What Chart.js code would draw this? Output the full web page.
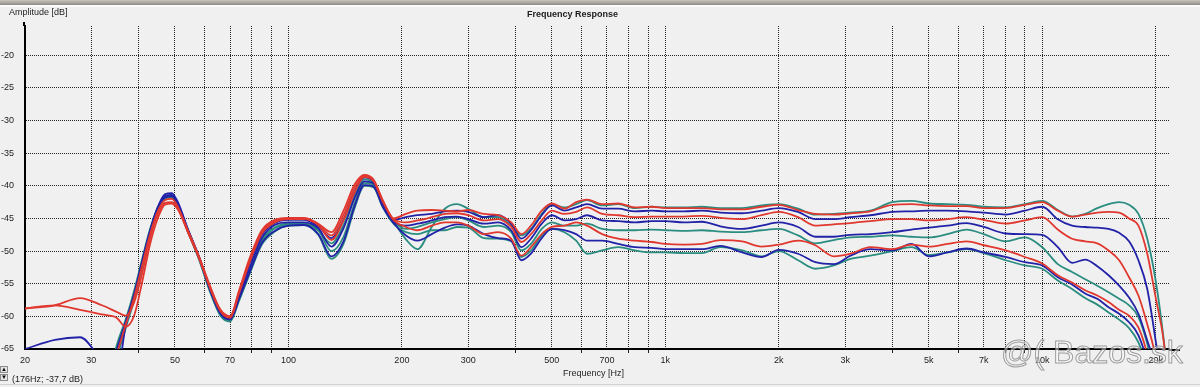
<!DOCTYPE html>
<html>
<head>
<meta charset="utf-8">
<script src="https://cdn.jsdelivr.net/npm/chart.js@4.4.1/dist/chart.umd.min.js"></script>
<style>
  html, body { margin: 0; padding: 0; background: #f0f0f0; }
  #wrap { position: relative; width: 1200px; height: 387px; overflow: hidden; background: #f0f0f0;
          font-family: "Liberation Sans", Arial, sans-serif; color: #1c1c1c; }
  #chart { position: absolute; left: 0; top: 0; }
  .txt { position: absolute; white-space: nowrap; font-size: 9px; line-height: 1; }
  #topbar { position: absolute; left: 0; top: 0; width: 1200px; height: 5px; background: linear-gradient(#c9c5bd, #8f8b84); }
  #topline { position: absolute; left: 0; top: 5px; width: 1200px; height: 2px; background: #fbfbfb; }
  #botline { position: absolute; left: 0; top: 384px; width: 1200px; height: 1px; background: #d2d2d2; }
  .btn { position: absolute; left: 0; width: 8px; height: 7px; background: #e4e4e4; border: 1px solid #8a8a8a; box-sizing: border-box;
         font-size: 6px; line-height: 5px; text-align: center; color: #000; }
  #mark { position: absolute; left: 1001px; top: 334px; font-size: 32px; font-family: "Liberation Sans", Arial, sans-serif;
          color: rgba(255,255,255,0.5); -webkit-text-stroke: 1px rgba(120,120,120,0.7); white-space: nowrap; }
</style>
</head>
<body>
<div id="wrap">
  <canvas id="chart" width="1200" height="387"></canvas>
  <div id="topbar"></div>
  <div id="topline"></div>
  <div class="txt" style="left:9px; top:8px;">Amplitude [dB]</div>
  <div class="txt" style="left:527px; top:10px; font-weight:bold;">Frequency Response</div>
  <div class="txt" style="left:563px; top:369px;">Frequency [Hz]</div>
  <div class="btn" style="top:366px;">&#9650;</div>
  <div class="btn" style="top:374px;">&#9660;</div>
  <div class="txt" style="left:12px; top:375px;">(176Hz; -37,7 dB)</div>
  <div id="botline"></div>
  <div id="mark">@( Bazos.sk</div>
</div>
<script>
// frequency points shared by all measurements (Hz)
const freqs = [20, 24, 28, 32, 35, 37, 39, 41, 43, 45, 47, 49, 51, 54, 58, 62, 66, 70, 74, 79, 85, 92, 100, 110, 120, 130, 140, 150, 159, 168, 178, 190,
  205, 220, 240, 260, 280, 300, 330, 360, 390, 415, 440, 470, 500, 540, 580, 620, 680, 750, 830, 920, 1000,
  1120, 1250, 1400, 1600, 1800, 2000, 2250, 2500, 2800, 3100, 3500, 4000, 4500, 5000, 5600, 6300, 7000, 8000, 9000, 10000,
  11000, 12000, 13000, 14000, 15000, 16000, 17000, 18000, 19000, 20000, 21000, 22000];

// amplitude in dB, one array per curve (top to bottom at high frequencies)
const teal1 = [-75, -75, -75, -75, -64.8, -60.8, -56.3, -51.3, -46.7, -43.4, -41.7, -41.5, -42.9, -46.6, -51.0, -55.8, -59.4, -60.5, -57.2, -52.8, -48.3, -46.4, -45.8, -45.8, -46.8, -50.0, -47.8, -42.6, -39.6, -39.8, -42.8, -45.4,
  -48.2, -49.7, -46.3, -43.5, -42.8, -43.5, -44.8, -44.8, -46.1, -47.6, -46.6, -44.3, -42.8, -43.3, -42.8, -42.2, -43.0, -42.8, -43.4, -43.2, -43.3,
  -43.3, -43.2, -43.4, -43.4, -43.0, -42.8, -43.5, -44.4, -44.3, -44.1, -43.8, -42.5, -42.3, -42.7, -42.8, -42.9, -43.2, -43.3, -42.8, -42.3,
  -43.7, -44.7, -44.3, -43.4, -42.8, -42.5, -42.9, -44.3, -48.1, -54.5, -63.5, -75];
const red2 = [-58.8, -58.3, -57.2, -58.3, -59.3, -59.9, -57.8, -53.2, -47.9, -44.4, -42.6, -42.5, -43.5, -46.7, -50.9, -55.4, -59.0, -60.0, -56.0, -51.0, -46.8, -45.2, -44.9, -44.9, -45.8, -47.1, -43.8, -39.7, -38.3, -39.0, -42.2, -45.0,
  -44.3, -43.8, -43.7, -43.8, -43.9, -43.7, -44.3, -44.5, -45.6, -47.4, -46.1, -43.8, -42.7, -43.5, -42.5, -42.1, -42.8, -42.7, -43.3, -43.2, -43.4,
  -43.4, -43.4, -43.6, -43.6, -43.2, -42.9, -43.7, -44.3, -44.4, -44.2, -43.9, -42.9, -42.8, -43.0, -43.1, -43.1, -43.4, -43.4, -42.9, -42.5,
  -43.8, -44.7, -44.4, -44.1, -44.0, -44.1, -45.0, -46.1, -50.4, -57.1, -63.7, -75];
const blue3 = [-65.0, -63.6, -63.2, -66.8, -69.0, -61.5, -56.8, -51.6, -46.9, -43.5, -41.8, -41.6, -43.0, -46.7, -51.1, -55.8, -59.3, -60.3, -56.6, -51.8, -47.5, -45.7, -45.2, -45.2, -46.2, -48.0, -45.2, -40.8, -38.7, -39.3, -42.5, -45.2,
  -44.8, -44.5, -44.3, -43.9, -43.8, -44.0, -44.8, -44.5, -45.8, -48.1, -46.8, -44.5, -43.0, -43.8, -43.3, -42.8, -43.5, -43.5, -43.9, -43.8, -43.9,
  -43.9, -43.8, -44.1, -44.2, -43.8, -43.4, -44.0, -45.1, -45.1, -44.8, -44.5, -44.0, -43.9, -43.8, -43.8, -43.9, -44.1, -44.4, -43.8, -43.2,
  -45.1, -46.1, -46.3, -46.4, -46.6, -47.2, -48.5, -51.4, -55.8, -63.7, -72, -80];
const red4 = [-58.8, -58.3, -59.0, -59.7, -60.2, -61.6, -59.8, -54.5, -48.8, -45.0, -42.9, -42.7, -43.7, -47.0, -51.2, -55.6, -59.0, -60.0, -56.2, -51.3, -47.0, -45.4, -45.0, -45.0, -45.9, -47.6, -44.5, -40.2, -38.4, -39.1, -42.3, -45.1,
  -45.6, -45.3, -44.8, -44.3, -44.2, -44.5, -45.3, -45.1, -46.3, -48.6, -47.4, -45.3, -43.8, -44.3, -44.0, -43.3, -44.3, -44.5, -44.8, -44.7, -44.7,
  -44.7, -44.6, -44.9, -45.1, -44.5, -44.0, -44.8, -46.1, -45.9, -45.7, -45.4, -45.1, -45.1, -45.3, -45.1, -44.8, -45.2, -45.8, -45.3, -44.8,
  -46.7, -48.1, -48.5, -48.8, -49.9, -51.4, -54.0, -56.8, -61.2, -66.3, -75, -80];
const blue5 = [-75, -75, -75, -75, -65.5, -61.0, -56.6, -51.5, -46.8, -43.4, -41.6, -41.4, -42.9, -46.6, -51.0, -55.9, -59.5, -60.4, -57.0, -52.5, -48.0, -46.0, -45.6, -45.6, -46.5, -49.3, -46.5, -41.8, -39.3, -39.6, -42.7, -45.4,
  -46.1, -45.8, -45.3, -44.8, -44.7, -45.1, -45.8, -45.6, -46.8, -49.4, -48.1, -45.8, -44.5, -45.3, -45.1, -44.5, -45.3, -45.4, -45.6, -45.4, -45.4,
  -45.6, -45.5, -46.2, -46.6, -46.1, -45.6, -46.3, -47.8, -47.8, -47.5, -47.4, -47.1, -46.7, -46.4, -46.1, -45.7, -46.3, -47.3, -47.4, -47.5,
  -49.4, -51.8, -51.3, -52.3, -53.7, -55.3, -57.1, -59.6, -63.7, -68, -76, -80];
const teal6 = [-75, -75, -75, -75, -64.5, -60.5, -56.0, -51.0, -46.5, -43.3, -41.9, -41.8, -43.2, -46.9, -51.3, -56.2, -59.8, -60.6, -57.4, -53.0, -48.6, -46.5, -45.9, -45.8, -46.9, -48.8, -46.0, -41.5, -39.0, -39.5, -42.6, -45.3,
  -46.6, -46.3, -45.6, -45.1, -44.8, -45.3, -46.3, -46.1, -47.1, -49.9, -48.9, -46.6, -45.6, -46.1, -46.1, -45.8, -46.6, -46.8, -46.8, -46.7, -46.8,
  -46.9, -46.8, -47.0, -47.1, -46.8, -46.6, -47.6, -48.8, -48.3, -47.9, -47.8, -47.6, -47.8, -47.9, -47.4, -46.7, -47.4, -48.5, -47.9, -49.4,
  -52.0, -53.2, -54.3, -55.3, -56.3, -57.3, -58.3, -60.1, -64.2, -70, -78, -80];
const red7 = [-75, -75, -75, -75, -66.0, -61.3, -57.0, -52.0, -47.3, -43.9, -42.2, -42.0, -43.3, -46.9, -51.1, -55.7, -59.2, -60.2, -56.4, -51.6, -47.3, -45.6, -45.1, -45.1, -46.0, -48.3, -45.3, -40.9, -38.6, -39.2, -42.4, -45.2,
  -46.3, -46.8, -46.1, -45.6, -45.6, -46.1, -47.4, -47.1, -48.1, -50.7, -49.4, -47.4, -46.3, -46.1, -45.6, -46.1, -47.4, -48.1, -48.4, -48.6, -48.9,
  -49.0, -48.9, -48.3, -48.5, -49.3, -49.0, -48.4, -49.1, -50.8, -50.4, -49.4, -49.7, -49.0, -49.3, -48.9, -48.5, -49.1, -49.9, -50.9, -51.9,
  -53.7, -54.8, -56.0, -56.8, -57.8, -59.0, -59.9, -61.7, -65.8, -72, -80, -80];
const blue8 = [-75, -75, -75, -75, -65.2, -60.9, -56.5, -51.4, -46.8, -43.3, -41.3, -41.1, -42.6, -46.5, -51.0, -56.0, -59.6, -60.5, -57.3, -53.2, -48.8, -46.9, -46.1, -46.0, -47.4, -50.8, -48.5, -43.0, -39.9, -40.1, -43.2, -45.7,
  -47.6, -48.4, -47.4, -46.4, -45.9, -46.1, -47.4, -48.0, -48.4, -51.4, -50.4, -48.0, -46.6, -46.8, -47.4, -48.4, -48.4, -48.9, -49.4, -49.5, -49.7,
  -49.7, -49.7, -49.2, -50.2, -50.9, -49.8, -50.4, -51.7, -52.0, -50.7, -49.7, -49.9, -48.9, -50.8, -50.2, -49.6, -50.2, -50.9, -51.7, -52.2,
  -54.0, -55.1, -56.5, -57.3, -58.6, -59.6, -60.9, -62.9, -67, -74, -80, -80];
const teal9 = [-75, -75, -75, -75, -66.5, -61.8, -57.4, -52.3, -47.5, -43.9, -42.0, -41.8, -43.1, -46.9, -51.4, -56.3, -59.9, -60.8, -57.6, -53.4, -49.0, -47.0, -46.1, -46.0, -47.5, -51.2, -48.9, -43.3, -40.0, -40.2, -43.3, -45.8,
  -47.1, -47.4, -46.8, -46.8, -46.3, -46.4, -48.0, -48.1, -48.5, -50.9, -49.9, -47.6, -46.6, -47.1, -48.4, -50.4, -49.9, -49.4, -49.9, -50.2, -50.2,
  -50.3, -50.3, -49.4, -49.9, -50.8, -50.0, -51.4, -52.7, -52.2, -51.2, -50.7, -50.0, -49.4, -50.6, -50.2, -49.7, -50.3, -51.4, -52.2, -52.7,
  -54.5, -55.8, -57.2, -58.2, -59.4, -60.5, -61.8, -64.0, -68, -75, -80, -80];

// axis ticks
const yTicks = [-65, -60, -55, -50, -45, -40, -35, -30, -25, -20];
const gridFreqs = [20, 30, 40, 50, 60, 70, 80, 90, 100, 200, 300, 400, 500, 600, 700, 800, 900,
  1000, 2000, 3000, 4000, 5000, 6000, 7000, 8000, 9000, 10000, 20000];
const tickValues = [20, 30, 50, 70, 100, 200, 300, 500, 700, 1000, 2000, 3000, 5000, 7000, 10000, 20000];
const tickLabels = ['20', '30', '50', '70', '100', '200', '300', '500', '700', '1k', '2k', '3k', '5k', '7k', '10k', '20k'];

const RED = '#e0382f';
const BLUE = '#2222a8';
const TEAL = '#2b8d80';

const curves = [
  { values: red2, color: RED, order: 0 },
  { values: red4, color: RED, order: 0 },
  { values: red7, color: RED, order: 0 },
  { values: blue3, color: BLUE, order: 1 },
  { values: blue5, color: BLUE, order: 1 },
  { values: blue8, color: BLUE, order: 1 },
  { values: teal1, color: TEAL, order: 2 },
  { values: teal6, color: TEAL, order: 2 },
  { values: teal9, color: TEAL, order: 2 }
];

// the bottom axis line runs a little past the plot, the left one a bit above it
const axisTail = {
  id: 'axisTail',
  afterDraw(chart) {
    const a = chart.chartArea;
    const ctx = chart.ctx;
    ctx.save();
    ctx.strokeStyle = '#000';
    ctx.lineWidth = 2;
    ctx.beginPath();
    ctx.moveTo(a.right, a.bottom + 1);
    ctx.lineTo(1180, a.bottom + 1);
    ctx.moveTo(a.left - 1, a.top);
    ctx.lineTo(a.left - 1, a.top - 4);
    ctx.stroke();
    ctx.restore();
  }
};

const font = { family: '"Liberation Sans", Arial, sans-serif', size: 9 };

new Chart(document.getElementById('chart'), {
  type: 'line',
  data: {
    datasets: curves.map(c => ({
      data: freqs.map((f, i) => ({ x: f, y: c.values[i] })),
      borderColor: c.color,
      borderWidth: 1.8,
      pointRadius: 0,
      cubicInterpolationMode: 'monotone',
      order: c.order
    }))
  },
  options: {
    responsive: false,
    animation: false,
    events: [],
    layout: { padding: { top: 26, right: 31, left: 0, bottom: 0 } },
    plugins: { legend: { display: false }, tooltip: { enabled: false } },
    scales: {
      x: {
        type: 'logarithmic',
        min: 20,
        max: 21700,
        afterBuildTicks: s => { s.ticks = gridFreqs.map(v => ({ value: v })); },
        afterFit: s => { s.height = 38; },
        grid: {
          color: '#262626',
          lineWidth: 1,
          drawTicks: true,
          tickLength: 4,
          tickColor: ctx => (ctx.tick && tickValues.includes(ctx.tick.value)) ? 'rgba(0,0,0,0)' : '#222'
        },
        border: { color: '#000', width: 2, dash: [1, 1] },
        ticks: {
          autoSkip: false,
          maxRotation: 0,
          padding: 2,
          color: '#222',
          font: font,
          callback: v => {
            const k = tickValues.indexOf(v);
            return k < 0 ? '' : tickLabels[k];
          }
        }
      },
      y: {
        min: -65,
        max: -15.5,
        afterBuildTicks: s => { s.ticks = yTicks.map(v => ({ value: v })); },
        afterFit: s => { s.width = 25; },
        grid: { color: '#262626', lineWidth: 1, drawTicks: false },
        border: { color: '#000', width: 2, dash: [1, 1] },
        ticks: { padding: 11, color: '#222', font: font, callback: v => String(v) }
      }
    }
  },
  plugins: [axisTail]
});
</script>
</body>
</html>
